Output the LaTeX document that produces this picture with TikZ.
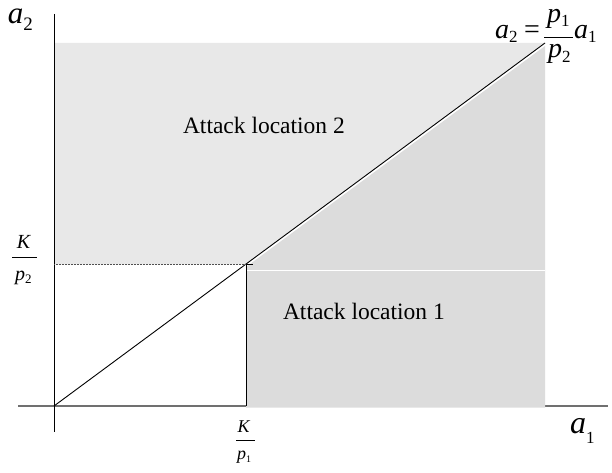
\documentclass[tikz,border=0pt]{standalone}
\usepackage{fontspec}
\setmainfont{Liberation Serif}
\definecolor{lightg}{HTML}{E8E8E8}
\definecolor{darkg}{HTML}{DCDCDC}
\definecolor{axisg}{HTML}{707070}
\definecolor{dotg}{HTML}{505050}
\newcommand{\sbx}[3]{\raisebox{#1}{\fontsize{#2}{#2}\selectfont #3}}
\newcommand{\fs}[1]{\fontsize{#1}{#1}\selectfont}
\tikzset{
  lbl/.style={inner sep=0pt, outer sep=0pt, anchor=base west},
  xaxisline/.style={draw=axisg, line width=1.4pt},
  yaxisline/.style={draw=black, line width=0.9pt},
  diagline/.style={draw=black, line width=0.9pt},
  guideline/.style={draw=dotg, line width=0.8pt, dash pattern=on 1pt off 0.5pt},
  fracbar/.style={draw=black, line width=0.9pt},
}
\begin{document}
\begin{tikzpicture}[x=1pt,y=-1pt]
\useasboundingbox (0,0) rectangle (612,473);
\fill[white] (0,0) rectangle (612,473);
% key points
\coordinate (O) at (54,406);
\coordinate (C) at (246,264);
\coordinate (T) at (545,43);
\coordinate (Ytop) at (54,14);
\coordinate (Ybot) at (54,432);
\coordinate (Xl) at (18,406);
\coordinate (Xr) at (608,406);
\coordinate (GL) at (54,264);
\coordinate (CB) at (246,406);
\coordinate (Tick) at (253,264);
% x axis (under fills)
\draw[xaxisline] (Xl) -- (Xr);
% regions
\fill[lightg] (54,43) -- (T) -- (C) -- (GL) -- cycle;
\fill[darkg] (246,267) -- (545,46) -- (545,407.6) -- (246,407.6) -- cycle;
\draw[white, line width=0.8pt] (247,270.5) -- (545,270.5);
% lines
\draw[yaxisline] (Ytop) -- (Ybot);
\draw[diagline] (O) -- (T);
\draw[guideline] (GL) -- (C);
\draw[draw=black, line width=0.9pt] (C) -- (CB);
\draw[draw=black, line width=0.9pt] (C) -- (Tick);
% region labels
\node[lbl, font=\fs{23.5}] (loc2) at (183,134) {Attack location 2};
\node[lbl, font=\fs{23.5}] (loc1) at (283,319) {Attack location 1};
% axis labels
\node[lbl, font=\fs{31}, text height=15pt] (a2lab) at (8,24) {\textit{a}\sbx{-7pt}{19}{2}};
\node[lbl, font=\fs{32}] (a1lab) at (570,433) {\textit{a}\sbx{-10pt}{17}{1}};
% K/p2
\node[inner sep=0pt, anchor=base, font=\fs{20}] (K2) at (24,248) {\textit{K}};
\coordinate (B2l) at (12,257);
\coordinate (B2r) at (37,257);
\draw[fracbar] (B2l) -- (B2r);
\node[lbl, font=\fs{20}] (P2) at (15,280) {\textit{p}\sbx{-3pt}{13}{2}};
% K/p1
\node[inner sep=0pt, anchor=base, font=\fs{18}] (K1) at (244,432) {\textit{K}};
\coordinate (B1l) at (236,440);
\coordinate (B1r) at (255,440);
\draw[fracbar] (B1l) -- (B1r);
\node[lbl, font=\fs{18}] (P1) at (237,459) {\textit{p}\sbx{-3pt}{10}{1}};
% equation
\node[lbl, font=\fs{28}] (eqa2) at (495,39) {\textit{a}\sbx{-4pt}{17}{2}};
\node[lbl, font=\fs{28}] (eqeq) at (524,39) {=};
\node[lbl, font=\fs{28}] (eqp1) at (547,23) {\textit{p}\sbx{-4pt}{17}{1}};
\coordinate (EBl) at (544,37);
\coordinate (EBr) at (573,37);
\draw[fracbar] (EBl) -- (EBr);
\node[lbl, font=\fs{28}] (eqp2) at (548,58) {\textit{p}\sbx{-5pt}{17}{2}};
\node[lbl, font=\fs{28}] (eqa1) at (574,39) {\textit{a}\sbx{-4pt}{17}{1}};
\end{tikzpicture}
\end{document}
